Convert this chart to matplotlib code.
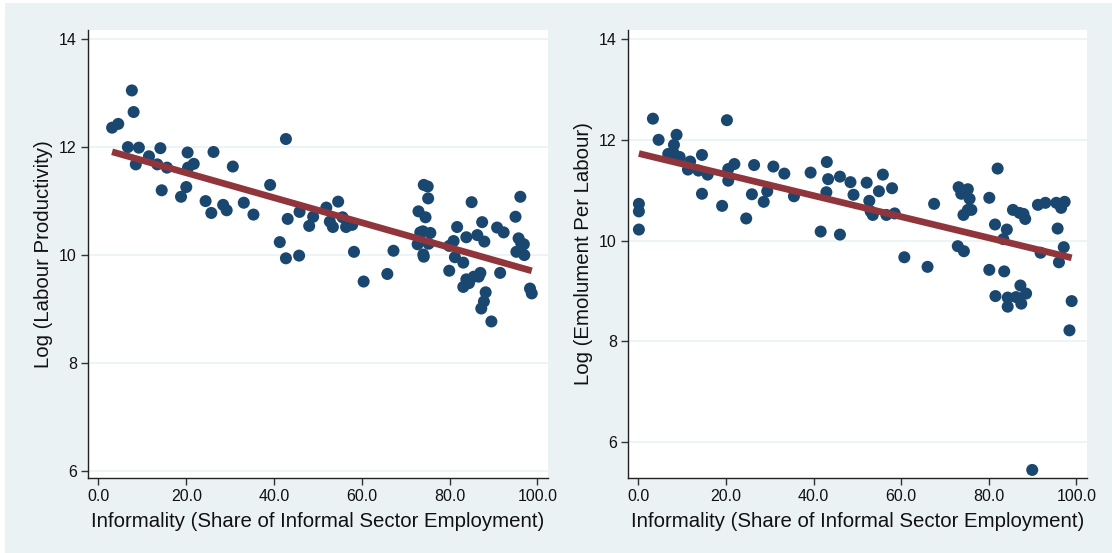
import numpy as np
import matplotlib.pyplot as plt
from matplotlib.patches import Rectangle

plt.rcParams['font.family'] = ['Liberation Sans', 'DejaVu Sans']

# informality share (%) and log labour productivity
inf_lp = [3.1, 4.5, 7.6, 8.0, 6.7, 9.2, 8.5, 11.5, 13.4, 14.1, 15.6, 14.4, 20.3, 21.7,
          20.4, 20.0, 18.8, 26.2, 30.6, 24.4, 25.7, 28.4, 29.2, 33.1, 35.3, 39.1, 42.7,
          43.1, 45.8, 48.0, 48.9, 41.3, 42.7, 45.7, 51.9, 54.6, 52.7, 53.4, 55.6, 56.4,
          57.8, 58.2, 60.4, 65.8, 67.2, 74.1, 75.0, 75.1, 72.9, 74.5, 73.3, 73.9, 75.6,
          72.7, 75.2, 74.0, 74.1, 79.9, 80.9, 81.7, 83.8, 85.0, 86.3, 87.4, 87.9, 81.2,
          83.1, 79.9, 83.8, 83.1, 84.4, 85.5, 87.0, 86.6, 88.2, 87.8, 87.2, 89.5, 90.8,
          92.3, 91.5, 95.0, 96.1, 95.7, 96.3, 95.2, 96.9, 97.0, 98.3, 98.7]
log_lp = [12.36, 12.43, 13.05, 12.65, 12.0, 11.99, 11.68, 11.83, 11.68, 11.98, 11.62,
          11.2, 11.9, 11.69, 11.62, 11.26, 11.08, 11.91, 11.64, 11.0, 10.78, 10.93,
          10.83, 10.97, 10.75, 11.3, 12.15, 10.67, 10.8, 10.54, 10.71, 10.24, 9.94, 9.99,
          10.88, 10.99, 10.62, 10.52, 10.7, 10.52, 10.56, 10.06, 9.51, 9.65, 10.08, 11.3,
          11.27, 11.05, 10.81, 10.7, 10.42, 10.44, 10.41, 10.2, 10.21, 10.01, 9.97,
          10.17, 10.26, 10.52, 10.33, 10.98, 10.37, 10.61, 10.25, 9.96, 9.86, 9.71, 9.55,
          9.41, 9.48, 9.6, 9.67, 9.6, 9.31, 9.14, 9.01, 8.77, 10.51, 10.42, 9.67, 10.71,
          11.08, 10.31, 10.22, 10.06, 10.2, 10.0, 9.38, 9.29]

# informality share (%) and log emolument per labour
inf_em = [0.1, 0.1, 0.1, 3.3, 4.6, 8.7, 8.1, 6.8, 8.0, 9.4, 11.8, 11.3, 13.7, 14.5, 15.8,
          14.5, 19.1, 20.2, 20.5, 21.9, 20.5, 24.6, 25.9, 26.4, 29.4, 28.6, 30.8, 33.3,
          35.5, 39.3, 43.0, 43.3, 42.9, 41.6, 46.0, 46.0, 48.4, 49.1, 52.1, 55.8, 54.9,
          57.9, 52.7, 53.0, 53.5, 56.6, 58.5, 60.7, 66.0, 67.5, 73.1, 75.2, 73.7, 75.6,
          75.2, 76.0, 74.2, 72.9, 74.3, 80.1, 82.0, 81.4, 84.1, 83.3, 80.1, 83.5, 85.5,
          87.0, 88.3, 87.9, 91.2, 92.9, 95.4, 97.3, 96.5, 95.7, 97.1, 91.8, 96.0, 87.2,
          88.5, 81.5, 84.3, 86.2, 84.3, 87.4, 98.9, 98.4, 89.9]
log_em = [10.73, 10.58, 10.22, 12.42, 12.0, 12.1, 11.9, 11.72, 11.74, 11.66, 11.57, 11.41,
          11.39, 11.7, 11.31, 10.93, 10.69, 12.39, 11.42, 11.52, 11.19, 10.44, 10.92,
          11.5, 10.98, 10.77, 11.47, 11.33, 10.88, 11.35, 11.56, 11.22, 10.96, 10.18,
          10.12, 11.27, 11.16, 10.91, 11.15, 11.31, 10.98, 11.04, 10.79, 10.58, 10.51,
          10.51, 10.54, 9.67, 9.48, 10.73, 11.06, 11.02, 10.93, 10.83, 10.61, 10.61,
          10.51, 9.89, 9.79, 10.85, 11.43, 10.32, 10.22, 10.03, 9.42, 9.39, 10.61, 10.55,
          10.43, 10.53, 10.71, 10.75, 10.75, 10.77, 10.65, 10.24, 9.87, 9.76, 9.57, 9.11,
          8.95, 8.9, 8.87, 8.88, 8.69, 8.75, 8.8, 8.22, 5.45]

navy = '#1a476f'
maroon = '#90353b'
bg = '#eaf2f3'
xticks = [0, 20, 40, 60, 80, 100]
yticks = [6, 8, 10, 12, 14]

fig = plt.figure(figsize=(11.12, 5.53), dpi=100, facecolor='white')
fig.patches.append(Rectangle((5 / 1112, 0), 1, 550 / 553, transform=fig.transFigure,
                             facecolor=bg, edgecolor='none', zorder=-10))

ax1 = fig.add_axes([0.0791, 0.1356, 0.4137, 0.8102])
ax2 = fig.add_axes([0.5647, 0.1356, 0.4128, 0.8102])

panels = [
    (ax1, inf_lp, log_lp, 'Log (Labour Productivity)', (5.87, 14.17)),
    (ax2, inf_em, log_em, 'Log (Emolument Per Labour)', (5.29, 14.18)),
]

for ax, x, y, ylab, ylim in panels:
    x = np.array(x)
    y = np.array(y)
    ax.set_facecolor('white')
    ax.scatter(x, y, s=75, color=navy, edgecolors='none', zorder=3)
    # linear fit across the observed range
    b, a = np.polyfit(x, y, 1)
    xs = np.array([x.min(), x.max()])
    ax.plot(xs, a + b * xs, color=maroon, lw=4.8, solid_capstyle='butt', zorder=4)

    ax.set_xlim(-2.4, 102.4)
    ax.set_ylim(*ylim)
    ax.set_xticks(xticks)
    ax.set_xticklabels([f'{t:.1f}' for t in xticks])
    ax.set_yticks(yticks)
    ax.grid(axis='y', color=bg, lw=1.2, zorder=0)
    ax.set_axisbelow(True)
    for s in ['top', 'right']:
        ax.spines[s].set_visible(False)
    for s in ['left', 'bottom']:
        ax.spines[s].set_color('#222222')
        ax.spines[s].set_linewidth(1.0)
    ax.tick_params(direction='out', length=5, width=1, color='#333333',
                   labelsize=11.5, labelcolor='#111111', pad=3)
    ax.set_xlabel('Informality (Share of Informal Sector Employment)', fontsize=14.7,
                  color='#111111', labelpad=6)
    ax.set_ylabel(ylab, fontsize=14.7, color='#111111', labelpad=4)

fig.savefig('out.png', dpi=100, facecolor=fig.get_facecolor())
